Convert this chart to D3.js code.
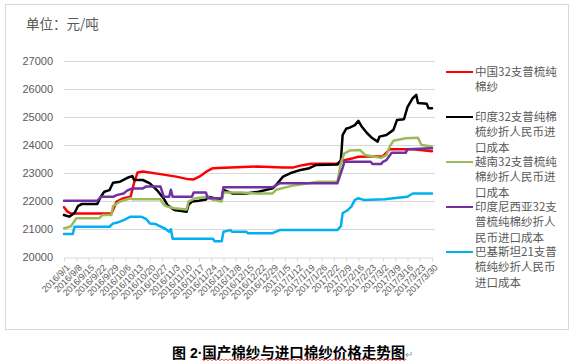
<!DOCTYPE html>
<html><head><meta charset="utf-8">
<script src="https://cdn.jsdelivr.net/npm/d3@7"></script>
<style>
html,body{margin:0;padding:0;background:#fff;}
svg{display:block;}
</style></head>
<body>
<svg id="c" width="574" height="362"></svg>
<script>
// ---------- data ----------
const yTicks = [20000, 21000, 22000, 23000, 24000, 25000, 26000, 27000];
const xTickLabels = ["2016/9/1","2016/9/8","2016/9/15","2016/9/22","2016/9/29","2016/10/6","2016/10/13","2016/10/20","2016/10/27","2016/11/3","2016/11/10","2016/11/17","2016/11/24","2016/12/1","2016/12/8","2016/12/15","2016/12/22","2016/12/29","2017/1/5","2017/1/12","2017/1/19","2017/1/26","2017/2/2","2017/2/9","2017/2/16","2017/2/23","2017/3/2","2017/3/9","2017/3/16","2017/3/23","2017/3/30"];

const seriesNames = ["中国32支普梳纯棉纱","印度32支普纯棉梳纱折人民币进口成本","越南32支普梳纯棉纱折人民币进口成本","印度尼西亚32支普梳纯棉纱折人民币进口成本","巴基斯坦21支普梳纯纱折人民币进口成本"];
const legendLines = [
  ["中国32支普梳纯","棉纱"],
  ["印度32支普纯棉","梳纱折人民币进","口成本"],
  ["越南32支普梳纯","棉纱折人民币进","口成本"],
  ["印度尼西亚32支","普梳纯棉纱折人","民币进口成本"],
  ["巴基斯坦21支普","梳纯纱折人民币","进口成本"]
];
const seriesColors = ["#ff0000","#000000","#9bbb59","#7030a0","#00b0f0"];

const chinaDates = ["2016-09-01","2016-09-03","2016-09-05","2016-09-28","2016-09-29","2016-10-01","2016-10-05","2016-10-09","2016-10-11","2016-10-13","2016-10-16","2016-10-26","2016-11-04","2016-11-10","2016-11-14","2016-11-18","2016-11-22","2016-11-25","2016-12-05","2016-12-20","2017-01-04","2017-01-10","2017-01-15","2017-01-20","2017-02-04","2017-02-08","2017-02-13","2017-02-16","2017-03-02","2017-03-06","2017-03-19","2017-03-30"];
const chinaValues = [21780,21620,21550,21550,21680,21980,22100,22150,22650,23020,23050,22960,22870,22790,22770,22900,23080,23170,23200,23230,23200,23200,23280,23330,23340,23460,23530,23580,23600,23850,23850,23780];

const indiaDates = ["2016-09-01","2016-09-04","2016-09-07","2016-09-09","2016-09-11","2016-09-20","2016-09-22","2016-09-24","2016-09-27","2016-09-29","2016-10-03","2016-10-08","2016-10-10","2016-10-11","2016-10-16","2016-10-20","2016-10-24","2016-10-28","2016-10-30","2016-11-03","2016-11-10","2016-11-11","2016-11-13","2016-11-17","2016-11-21","2016-11-22","2016-11-26","2016-11-30","2016-12-01","2016-12-06","2016-12-14","2016-12-21","2016-12-29","2016-12-31","2017-01-04","2017-01-08","2017-01-14","2017-01-19","2017-01-23","2017-02-04","2017-02-06","2017-02-07","2017-02-09","2017-02-11","2017-02-14","2017-02-16","2017-02-18","2017-02-21","2017-02-24","2017-02-27","2017-02-28","2017-03-04","2017-03-08","2017-03-10","2017-03-14","2017-03-16","2017-03-19","2017-03-21","2017-03-22","2017-03-27","2017-03-28","2017-03-30"];
const indiaValues = [21500,21440,21570,21820,21890,21890,22150,22330,22390,22650,22690,22850,22890,22750,22750,22630,22390,22080,21860,21680,21620,21860,21980,22010,22050,22150,22100,22070,22400,22270,22270,22330,22450,22570,22870,22990,23110,23170,23290,23300,23450,24350,24580,24620,24710,24860,24650,24420,24240,24120,24300,24360,24540,24890,24920,25350,25670,25790,25500,25470,25310,25310];

const vietnamDates = ["2016-09-01","2016-09-05","2016-09-08","2016-09-21","2016-09-23","2016-09-28","2016-09-29","2016-10-03","2016-10-09","2016-10-10","2016-10-26","2016-10-28","2016-10-30","2016-11-03","2016-11-10","2016-11-11","2016-11-15","2016-11-22","2016-11-25","2016-11-30","2016-12-01","2016-12-11","2016-12-20","2016-12-29","2016-12-31","2017-01-09","2017-01-24","2017-02-04","2017-02-06","2017-02-08","2017-02-11","2017-02-17","2017-02-20","2017-02-25","2017-03-01","2017-03-04","2017-03-06","2017-03-08","2017-03-15","2017-03-22","2017-03-24","2017-03-30"];
const vietnamValues = [21020,21100,21380,21380,21500,21500,21820,21980,22100,22060,22060,21860,21800,21740,21700,21980,22100,22150,22040,21980,22300,22300,22270,22270,22400,22540,22690,22690,23350,23700,23800,23820,23640,23580,23540,23640,23960,24150,24240,24260,24000,23950];

const indonesiaDates = ["2016-09-01","2016-09-20","2016-09-22","2016-09-29","2016-10-01","2016-10-05","2016-10-07","2016-10-10","2016-10-16","2016-10-18","2016-10-26","2016-10-28","2016-10-31","2016-11-01","2016-11-02","2016-11-13","2016-11-14","2016-11-21","2016-11-22","2016-11-30","2016-12-01","2016-12-29","2017-01-02","2017-02-04","2017-02-07","2017-02-08","2017-02-23","2017-02-24","2017-03-01","2017-03-02","2017-03-04","2017-03-07","2017-03-15","2017-03-16","2017-03-30"];
const indonesiaValues = [22010,22010,22150,22150,22210,22270,22370,22450,22450,22520,22520,22150,22150,22400,22150,22150,22300,22300,22100,22100,22490,22490,22630,22630,23180,23400,23400,23320,23320,23400,23460,23720,23720,23850,23880];

const pakistanDates = ["2016-09-01","2016-09-06","2016-09-07","2016-09-27","2016-09-29","2016-10-01","2016-10-05","2016-10-09","2016-10-15","2016-10-18","2016-10-20","2016-10-23","2016-10-29","2016-10-31","2016-11-01","2016-11-02","2016-11-25","2016-11-26","2016-11-30","2016-12-01","2016-12-05","2016-12-06","2016-12-14","2016-12-15","2016-12-29","2017-01-02","2017-02-04","2017-02-06","2017-02-07","2017-02-10","2017-02-12","2017-02-14","2017-02-16","2017-02-19","2017-03-03","2017-03-08","2017-03-16","2017-03-19","2017-03-30"];
const pakistanValues = [20820,20820,21080,21080,21200,21220,21320,21440,21440,21350,21200,21180,21000,20900,20990,20650,20650,20560,20560,20900,20960,20900,20900,20850,20850,20960,20960,21100,21560,21680,21800,22040,22100,22040,22060,22100,22150,22270,22270];

const yTitle = "单位：元/吨";
const captionFig = "图";
const captionNum = " 2·";
const captionText = "国产棉纱与进口棉纱价格走势图";

// ---------- drawing ----------
const parse = d3.timeParse("%Y-%m-%d");
const parseTick = d3.timeParse("%Y/%m/%d");
const series = [
  {dates: chinaDates, values: chinaValues},
  {dates: indiaDates, values: indiaValues},
  {dates: vietnamDates, values: vietnamValues},
  {dates: indonesiaDates, values: indonesiaValues},
  {dates: pakistanDates, values: pakistanValues}
].map((s, i) => ({name: seriesNames[i], color: seriesColors[i],
   pts: s.dates.map((d, j) => ({x: parse(d), y: s.values[j]}))}));

const svg = d3.select("#c");
const font = "'Liberation Sans', Arial, sans-serif";
const cjk = "'Noto Sans CJK SC', sans-serif";

svg.append("rect").attr("x", 5.5).attr("y", 4.5).attr("width", 563).attr("height", 325)
  .attr("fill", "#fff").attr("stroke", "#d9d9d9");

const x = d3.scaleTime().domain([parseTick(xTickLabels[0]), parseTick(xTickLabels[xTickLabels.length - 1])]).range([64, 432]);
const y = d3.scaleLinear().domain([20000, 27000]).range([257, 61]);

// gridlines
svg.append("g").selectAll("line").data(yTicks.slice(1)).join("line")
  .attr("x1", 64).attr("x2", 435).attr("y1", d => Math.round(y(d)) + 0.5).attr("y2", d => Math.round(y(d)) + 0.5)
  .attr("stroke", "#d9d9d9").attr("stroke-width", 1);

// y axis
const yAxis = svg.append("g").attr("transform", "translate(64,0)")
  .call(d3.axisLeft(y).tickValues(yTicks).tickSize(0).tickPadding(11).tickFormat(d3.format("d")));
yAxis.select(".domain").remove();
yAxis.selectAll("text").attr("font-family", font).attr("font-size", 11).attr("fill", "#595959");

// x axis
const xAxis = svg.append("g").attr("transform", "translate(0," + (Math.round(y(20000)) + 0.5) + ")")
  .call(d3.axisBottom(x).tickValues(xTickLabels.map(parseTick)).tickSize(4).tickSizeOuter(0).tickFormat(""));
xAxis.select(".domain").attr("stroke", "#d9d9d9");
xAxis.selectAll(".tick line").attr("stroke", "#d9d9d9");
svg.append("g").selectAll("text").data(xTickLabels).join("text")
  .attr("transform", d => "translate(" + (x(parseTick(d)) + 4) + "," + 266 + ") rotate(-45)")
  .attr("text-anchor", "end").attr("dy", "0.35em")
  .attr("font-family", font).attr("font-size", 9).attr("fill", "#595959")
  .text(d => d);

// lines
const line = d3.line().x(d => x(d.x)).y(d => y(d.y));
svg.append("g").selectAll("path").data(series).join("path")
  .attr("d", d => line(d.pts)).attr("fill", "none")
  .attr("stroke", d => d.color).attr("stroke-width", 2.5)
  .attr("stroke-linejoin", "round").attr("stroke-linecap", "round");

// title
svg.append("text").attr("x", 26).attr("y", 24).attr("dy", "0.35em")
  .attr("font-family", cjk).attr("font-size", 13.5).attr("fill", "#595959").text(yTitle);

// legend
const lg = svg.append("g").selectAll("g").data(series).join("g")
  .attr("transform", (d, i) => "translate(446," + (72 + i * 45) + ")");
lg.append("line").attr("x1", 0).attr("x2", 27).attr("y1", 0).attr("y2", 0)
  .attr("stroke", d => d.color).attr("stroke-width", 2);
lg.append("text").attr("font-family", cjk).attr("font-size", 11.5).attr("fill", "#595959")
  .selectAll("tspan").data((d, i) => legendLines[i]).join("tspan")
  .attr("x", 29).attr("y", (d, j) => j * 15.4).attr("dy", "0.35em").text(d => d);

// caption
const capT = svg.append("text").attr("x", 172).attr("y", 352).attr("dy", "0.35em")
  .attr("font-weight", 700).attr("fill", "#000");
capT.append("tspan").attr("font-family", cjk).attr("font-size", 14).text(captionFig);
capT.append("tspan").attr("font-family", font).attr("font-size", 14).text(captionNum);
capT.append("tspan").attr("font-family", cjk).attr("font-size", 14.5).text(captionText);
capT.append("tspan").attr("font-family", cjk).attr("font-size", 10).attr("font-weight", 400)
  .attr("fill", "#999").text("↵");
// spell-check style wavy underline
let wp = "M202,359";
for (let xx = 202, k = 0; xx < 405; xx += 2, k++) wp += " L" + (xx + 2) + "," + (k % 2 ? 359 : 360.5);
svg.append("path").attr("d", wp).attr("fill", "none").attr("stroke", "#e02020").attr("stroke-width", 0.8);
</script>
</body></html>
